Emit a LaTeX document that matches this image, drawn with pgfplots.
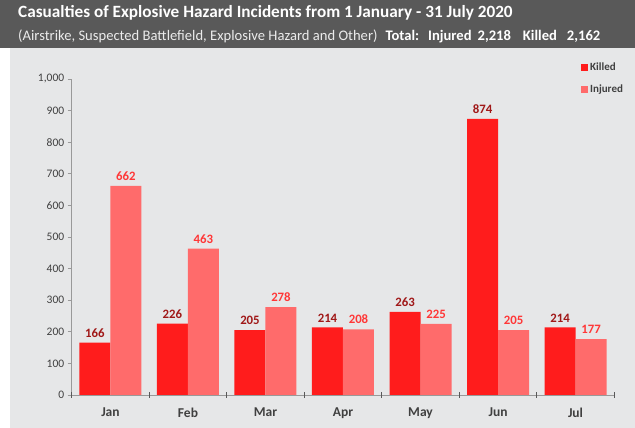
\documentclass[border=0pt]{standalone}
\usepackage{pgfplots}
\pgfplotsset{compat=1.18}
\usepackage{fontspec}
\setmainfont{Carlito}
\definecolor{band}{RGB}{89,89,89}
\definecolor{panel}{RGB}{230,231,232}
\definecolor{killed}{RGB}{255,28,28}
\definecolor{injured}{RGB}{255,107,107}
\definecolor{killedlbl}{RGB}{160,24,24}
\definecolor{injuredlbl}{RGB}{255,55,55}
\definecolor{txt}{RGB}{64,64,64}
\begin{document}
\begin{tikzpicture}[x=1pt,y=1pt]
\fill[white] (0,0) rectangle (635,428);
\fill[panel] (10,0) rectangle (635,380.3);
\fill[band] (0,380.3) rectangle (635,428);
\node[anchor=base west, inner sep=0pt, text=white, font=\bfseries\fontsize{17.2}{20}\selectfont] at (18,410.5) {Casualties of Explosive Hazard Incidents from 1 January - 31 July 2020};
\node[anchor=base west, inner sep=0pt, font=\fontsize{14.6}{17}\selectfont] at (18,387.5) {\textcolor[RGB]{235,235,235}{(Airstrike, Suspected Battlefield, Explosive Hazard and Other)}\hspace{8pt}\textcolor{white}{\bfseries Total:\hspace{9pt}Injured\hspace{6pt}2,218\hspace{12pt}Killed\hspace{10pt}2,162}};
\begin{axis}[
  at={(71.7pt,33pt)}, anchor=south west,
  scale only axis, width=542.6pt, height=316pt,
  ymin=0, ymax=1000, xmin=-0.5, xmax=6.5,
  ybar=0pt, bar width=31pt,
  axis x line*=bottom, axis y line*=left,
  axis line style={draw=gray!80, line width=0.8pt},
  /pgf/number format/assume math mode=true,
  /pgf/number format/1000 sep={,},
  ytick={0,100,...,1000},
  yticklabel style={font=\fontsize{11.5}{13}\selectfont, text=txt},
  ytick style={draw=gray!80, line width=0.8pt},
  tick align=outside, major tick length=4pt,
  xtick={0,...,6},
  xticklabels={Jan,Feb,Mar,Apr,May,Jun,Jul},
  xticklabel style={font=\bfseries\fontsize{13.5}{15}\selectfont, text=txt, yshift=-5pt},
  xtick style={draw=none},
  extra x ticks={-0.5,0.5,1.5,2.5,3.5,4.5,5.5,6.5},
  extra x tick labels={},
  extra x tick style={tick align=center, major tick length=6pt, xtick style={draw=gray!70!black, line width=0.8pt}},
  nodes near coords,
  every node near coord/.append style={font=\bfseries\fontsize{12.8}{14}\selectfont, inner sep=0pt, yshift=5pt, anchor=south},
  legend style={at={(0.9386,1.057)}, anchor=north west, draw=none, fill=none,
    font=\bfseries\fontsize{11}{12}\selectfont, text=txt, row sep=8pt, inner sep=0pt,
    nodes={inner sep=2pt}},
  legend cell align=left,
  legend image code/.code={\fill[#1] (0pt,-3.5pt) rectangle (7pt,3.5pt);},
]
\addplot[fill=killed, draw=none, every node near coord/.append style={text=killedlbl}]
  coordinates {(0,166) (1,226) (2,205) (3,214) (4,263) (5,874) (6,214)};
\addlegendentry{Killed}
\addplot[fill=injured, draw=none, every node near coord/.append style={text=injuredlbl}]
  coordinates {(0,662) (1,463) (2,278) (3,208) (4,225) (5,205) (6,177)};
\addlegendentry{Injured}
\end{axis}
\end{tikzpicture}
\end{document}
